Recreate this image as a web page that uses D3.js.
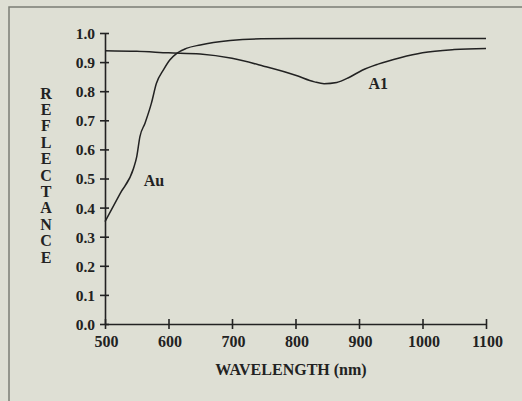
<!DOCTYPE html>
<html>
<head>
<meta charset="utf-8">
<script src="https://cdn.jsdelivr.net/npm/d3@7"></script>
<style>
  html, body { margin: 0; padding: 0; background: #dedfd4; }
  svg { display: block; }
  text { font-family: "Liberation Serif", "Times New Roman", serif; font-weight: bold; fill: #222; }
</style>
</head>
<body>
<script>
// data
var auWave = [500, 524, 545, 550, 555, 563, 573, 581, 592, 602, 613, 628, 650, 697, 746, 800, 900, 1000, 1100];
var auRefl = [0.352, 0.449, 0.535, 0.575, 0.644, 0.69, 0.758, 0.827, 0.873, 0.907, 0.93, 0.947, 0.959, 0.974, 0.98, 0.981, 0.981, 0.981, 0.981];

var alWave = [500, 550, 600, 650, 700, 750, 800, 830, 845, 865, 885, 905, 930, 965, 1000, 1050, 1100];
var alRefl = [0.939, 0.937, 0.932, 0.928, 0.913, 0.886, 0.855, 0.832, 0.826, 0.83, 0.848, 0.872, 0.893, 0.915, 0.932, 0.943, 0.947];

var xTicks = [500, 600, 700, 800, 900, 1000, 1100];
var yTicks = [0, 0.1, 0.2, 0.3, 0.4, 0.5, 0.6, 0.7, 0.8, 0.9, 1.0];
var yTitle = 'REFLECTANCE';
var xTitle = 'WAVELENGTH (nm)';

var w = 522, h = 401;

var svg = d3.select('body').append('svg')
  .attr('width', w)
  .attr('height', h);

// outer frame (runs off right and bottom)
svg.append('rect')
  .attr('x', 9).attr('y', 7)
  .attr('width', 600).attr('height', 500)
  .attr('fill', 'none')
  .attr('stroke', '#7b7e74')
  .attr('stroke-width', 1.5);

var x = d3.scaleLinear().domain([500, 1100]).range([105, 486]);
var y = d3.scaleLinear().domain([0, 1]).range([324, 33]);

// y axis
var yAxis = svg.append('g')
  .attr('transform', 'translate(105,0)')
  .call(d3.axisLeft(y).tickValues(yTicks).tickSizeInner(5).tickSizeOuter(0)
    .tickFormat(d3.format('.1f')));
yAxis.selectAll('.tick line').attr('x1', 4).attr('x2', -5);
yAxis.selectAll('.tick text')
  .attr('x', -10)
  .attr('dy', '0.35em')
  .style('font-size', '15.5px');

// x axis
var xAxis = svg.append('g')
  .attr('transform', 'translate(0,324)')
  .call(d3.axisBottom(x).tickValues(xTicks).tickSizeInner(5).tickSizeOuter(0)
    .tickFormat(d3.format('d')));
xAxis.selectAll('.tick line').attr('y1', -5).attr('y2', 5);
xAxis.selectAll('.tick text')
  .attr('y', 22.5)
  .attr('dy', 0)
  .attr('dx', 1)
  .style('font-size', '16px');

svg.selectAll('.domain, .tick line')
  .attr('stroke', '#222')
  .attr('stroke-width', 1.6);

// axis titles
svg.append('text')
  .attr('x', 291).attr('y', 375)
  .attr('text-anchor', 'middle')
  .style('font-size', '16px')
  .text(xTitle);

svg.append('g').selectAll('text')
  .data(yTitle.split(''))
  .enter()
  .append('text')
  .attr('x', 46)
  .attr('y', function(d, i) { return 98.5 + i * 16.4; })
  .attr('text-anchor', 'middle')
  .style('font-size', '16px')
  .text(function(d) { return d; });

// curves
var line = d3.line()
  .x(function(d) { return x(d[0]); })
  .y(function(d) { return y(d[1]); })
  .curve(d3.curveMonotoneX);

var auData = auWave.map(function(d, i) { return [d, auRefl[i]]; });
var alData = alWave.map(function(d, i) { return [d, alRefl[i]]; });

[auData, alData].forEach(function(data) {
  svg.append('path')
    .datum(data)
    .attr('d', line)
    .attr('fill', 'none')
    .attr('stroke', '#222')
    .attr('stroke-width', 1.5);
});

// curve labels
svg.append('text')
  .attr('x', x(561)).attr('y', y(0.475))
  .style('font-size', '16px')
  .text('Au');

svg.append('text')
  .attr('x', x(915)).attr('y', y(0.808))
  .style('font-size', '16px')
  .text('A1');
</script>
</body>
</html>
